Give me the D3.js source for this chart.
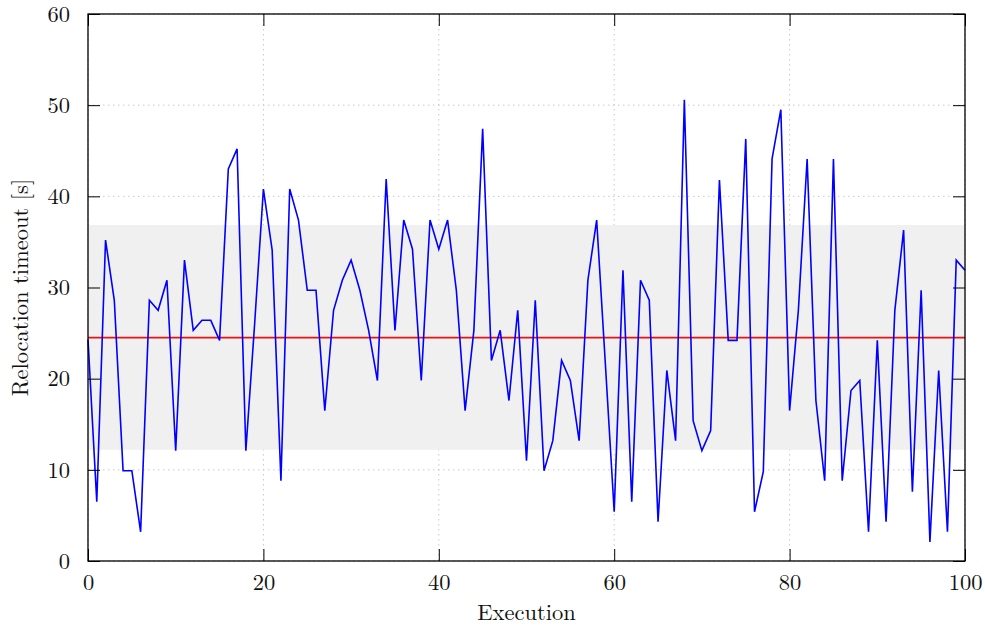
<!DOCTYPE html>
<html>
<head>
<meta charset="utf-8">
<script src="https://cdn.jsdelivr.net/npm/d3@7"></script>
<style>
  body { margin: 0; background: #fff; }
</style>
</head>
<body>
<div id="wrapper"></div>
<script>
// values
const timeouts = [
  24.3, 6.5, 35.2, 28.6, 9.9, 9.9, 3.2, 28.6, 27.5, 30.8,
  12.1, 33.0, 25.3, 26.4, 26.4, 24.2, 43.0, 45.2, 12.1, 26.0,
  40.8, 34.1, 8.8, 40.8, 37.4, 29.7, 29.7, 16.5, 27.5, 30.8,
  33.0, 29.7, 25.3, 19.8, 41.9, 25.3, 37.4, 34.2, 19.8, 37.4,
  34.2, 37.4, 29.7, 16.5, 25.3, 47.4, 22.0, 25.3, 17.6, 27.5,
  11.0, 28.6, 9.9, 13.2, 22.0, 19.8, 13.2, 30.8, 37.4, 21.5,
  5.4, 31.9, 6.5, 30.8, 28.6, 4.3, 20.9, 13.2, 50.6, 15.4,
  12.1, 14.3, 41.8, 24.2, 24.2, 46.3, 5.4, 9.8, 44.1, 49.5,
  16.5, 27.5, 44.1, 17.6, 8.8, 44.1, 8.8, 18.7, 19.8, 3.2,
  24.2, 4.3, 27.5, 36.3, 7.6, 29.7, 2.1, 20.9, 3.2, 33.0,
  31.9
];
const meanValue = 24.5;
const band = [12.2, 36.85];
const xTicks = [0, 20, 40, 60, 80, 100];
const yTicks = [0, 10, 20, 30, 40, 50, 60];

const fontFamily = "Latin Modern Roman";
const fontSize = 22.5;

const dimensions = {
  width: 985,
  height: 627,
  margin: { top: 14, right: 20, bottom: 66, left: 88 }
};
dimensions.boundedWidth = dimensions.width - dimensions.margin.left - dimensions.margin.right;
dimensions.boundedHeight = dimensions.height - dimensions.margin.top - dimensions.margin.bottom;

const svg = d3.select("#wrapper")
  .append("svg")
    .attr("width", dimensions.width)
    .attr("height", dimensions.height)
    .attr("font-family", fontFamily);

const bounds = svg.append("g")
  .attr("transform", "translate(" + dimensions.margin.left + "," + dimensions.margin.top + ")");

const x = d3.scaleLinear().domain([0, 100]).range([0, dimensions.boundedWidth]);
const y = d3.scaleLinear().domain([0, 60]).range([dimensions.boundedHeight, 0]);

// grid
const grid = bounds.append("g")
  .attr("stroke", "#c8c8c8")
  .attr("stroke-width", 1)
  .attr("stroke-dasharray", "1.5,3.5");
grid.selectAll(".gx").data(xTicks).join("line")
  .attr("x1", d => x(d)).attr("x2", d => x(d))
  .attr("y1", 0).attr("y2", dimensions.boundedHeight);
grid.selectAll(".gy").data(yTicks).join("line")
  .attr("x1", 0).attr("x2", dimensions.boundedWidth)
  .attr("y1", d => y(d)).attr("y2", d => y(d));

// std band
bounds.append("rect")
  .attr("x", 0)
  .attr("width", dimensions.boundedWidth)
  .attr("y", y(band[1]))
  .attr("height", y(band[0]) - y(band[1]))
  .attr("fill", "#f0f0f0");

// mean
bounds.append("line")
  .attr("x1", 0).attr("x2", dimensions.boundedWidth)
  .attr("y1", y(meanValue)).attr("y2", y(meanValue))
  .attr("stroke", "#f01010")
  .attr("stroke-width", 1.6);

// series
const line = d3.line()
  .x((d, i) => x(i))
  .y(d => y(d));
bounds.append("path")
  .attr("d", line(timeouts))
  .attr("fill", "none")
  .attr("stroke", "#0000ff")
  .attr("stroke-width", 1.6);

// axes, ticks inward on all sides
const tickLen = 12;
const styleAxis = g => {
  g.select(".domain").remove();
  g.attr("font-family", fontFamily).attr("font-size", fontSize);
  g.selectAll("line").attr("stroke", "#000");
  g.selectAll("text").attr("fill", "#111");
};
bounds.append("g")
  .attr("transform", "translate(0," + dimensions.boundedHeight + ")")
  .call(d3.axisBottom(x).tickValues(xTicks).tickSize(-tickLen).tickPadding(13))
  .call(styleAxis);
bounds.append("g")
  .call(d3.axisTop(x).tickValues(xTicks).tickSize(-tickLen).tickFormat(""))
  .call(styleAxis);
bounds.append("g")
  .call(d3.axisLeft(y).tickValues(yTicks).tickSize(-tickLen).tickPadding(18))
  .call(styleAxis);
bounds.append("g")
  .attr("transform", "translate(" + dimensions.boundedWidth + ",0)")
  .call(d3.axisRight(y).tickValues(yTicks).tickSize(-tickLen).tickFormat(""))
  .call(styleAxis);

// frame
bounds.append("rect")
  .attr("width", dimensions.boundedWidth)
  .attr("height", dimensions.boundedHeight)
  .attr("fill", "none")
  .attr("stroke", "#000")
  .attr("stroke-width", 1.3);

// titles
svg.append("text")
  .attr("x", dimensions.margin.left + dimensions.boundedWidth / 2)
  .attr("y", 620)
  .attr("text-anchor", "middle")
  .attr("font-size", fontSize)
  .attr("fill", "#111")
  .text("Execution");
svg.append("text")
  .attr("transform", "translate(28," + (dimensions.margin.top + dimensions.boundedHeight / 2) + ") rotate(-90)")
  .attr("text-anchor", "middle")
  .attr("font-size", fontSize)
  .attr("fill", "#111")
  .text("Relocation timeout [s]");
</script>
</body>
</html>
